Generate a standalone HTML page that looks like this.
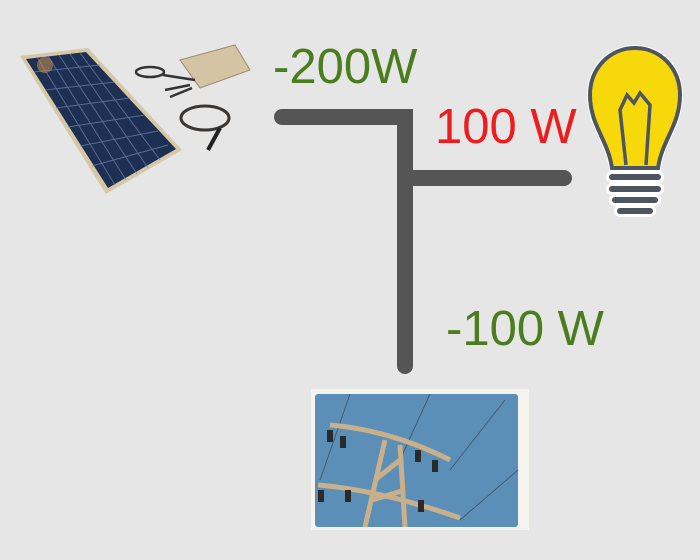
<!DOCTYPE html>
<html><head><style>
html,body{margin:0;padding:0;background:#e6e6e6;}
svg{display:block}
</style></head><body>
<svg width="700" height="560" xmlns="http://www.w3.org/2000/svg">
<rect width="700" height="560" fill="#e6e6e6"/>
<!-- solar panel -->
<g>
<polygon points="20,56 88,48 182,150 106,194" fill="#d6c7a5"/>
<polygon points="26,59 86,52 176,149 108,188" fill="#1d2f52"/>
<g stroke="#6f86b0" stroke-width="1" opacity="0.7">
<line x1="37" y1="57" x2="115" y2="185"/><line x1="48" y1="56" x2="126" y2="180"/>
<line x1="59" y1="55" x2="137" y2="174"/><line x1="70" y1="54" x2="148" y2="168"/>
<line x1="80" y1="53" x2="160" y2="160"/>
<line x1="34" y1="72" x2="100" y2="65"/><line x1="45" y1="90" x2="115" y2="82"/>
<line x1="56" y1="108" x2="130" y2="98"/><line x1="68" y1="127" x2="145" y2="115"/>
<line x1="80" y1="146" x2="158" y2="131"/><line x1="92" y1="166" x2="168" y2="145"/>
</g>
<circle cx="45" cy="65" r="8" fill="#c08a50" opacity="0.6"/>
<!-- inverter -->
<polygon points="180,60 235,45 250,70 200,88" fill="#d5c4a3" stroke="#9a8c72"/>
<ellipse cx="150" cy="72" rx="14" ry="5" fill="none" stroke="#333" stroke-width="2.5"/>
<path d="M163,75 L195,80 M165,90 L190,85 M170,97 L192,88" stroke="#333" stroke-width="2.5"/>
<ellipse cx="205" cy="118" rx="24" ry="12" fill="none" stroke="#3a3633" stroke-width="3"/>
<path d="M220,128 L208,150" stroke="#222" stroke-width="4"/>
</g>
<!-- connectors -->
<g stroke="#555" stroke-width="16" stroke-linecap="round" fill="none">
<path d="M282,117 L405,117 L405,366"/>
<path d="M405,178 L564,178"/>
</g>
<g font-family="Liberation Sans, sans-serif" font-size="49">
<text x="273" y="83" fill="#4b7d1e">-200W</text>
<text x="435" y="143" fill="#ee1d1d">100 W</text>
<text x="446" y="345" fill="#4b7d1e">-100 W</text>
</g>
<!-- bulb -->
<g>
<path d="M612,168 C608,140 590,125 590,95 C590,68 610,48 635,48 C660,48 680,68 680,95 C680,125 662,140 658,168 Z" fill="#fff" stroke="#fff" stroke-width="6"/>
<path d="M612,168 C608,140 590,125 590,95 C590,68 610,48 635,48 C660,48 680,68 680,95 C680,125 662,140 658,168 Z" fill="#f7d80a" stroke="#4d5560" stroke-width="4"/>
<path d="M626,165 L620,110 L627,95 L634,103 L640,93 L650,105 L646,165" fill="none" stroke="#4d5560" stroke-width="3.5"/>
<g stroke="#fff" stroke-width="12" stroke-linecap="round"><line x1="612" y1="177" x2="658" y2="177"/><line x1="612" y1="189" x2="658" y2="189"/><line x1="615" y1="200" x2="655" y2="200"/><line x1="620" y1="211" x2="650" y2="211"/></g>
<g stroke="#4d5560" stroke-width="6" stroke-linecap="round"><line x1="612" y1="177" x2="658" y2="177"/><line x1="612" y1="189" x2="658" y2="189"/><line x1="615" y1="200" x2="655" y2="200"/><line x1="620" y1="211" x2="650" y2="211"/></g>
</g>
<!-- grid photo -->
<rect x="311" y="389" width="218" height="141" fill="#f5f3ee"/>
<rect x="315" y="394" width="203" height="133" rx="3" fill="#5c8fb8"/>
<g stroke="#2b3a4a" stroke-width="1" opacity="0.6">
<line x1="350" y1="394" x2="320" y2="480"/><line x1="430" y1="394" x2="400" y2="460"/>
<line x1="505" y1="400" x2="450" y2="470"/><line x1="518" y1="470" x2="460" y2="520"/>
</g>
<g stroke="#c9b08a" stroke-width="5" fill="none">
<path d="M330,425 Q390,430 450,460"/>
<path d="M318,485 Q380,490 460,518"/>
<path d="M365,527 L385,440 M405,527 L400,445 M375,480 L400,460 M372,500 L405,490"/>
</g>
<g fill="#2a2a2a">
<rect x="327" y="430" width="6" height="12"/><rect x="340" y="436" width="6" height="12"/>
<rect x="415" y="450" width="6" height="12"/><rect x="432" y="460" width="6" height="12"/>
<rect x="318" y="490" width="6" height="12"/><rect x="345" y="490" width="6" height="12"/>
<rect x="418" y="500" width="6" height="12"/>
</g>
</svg>
</body></html>
